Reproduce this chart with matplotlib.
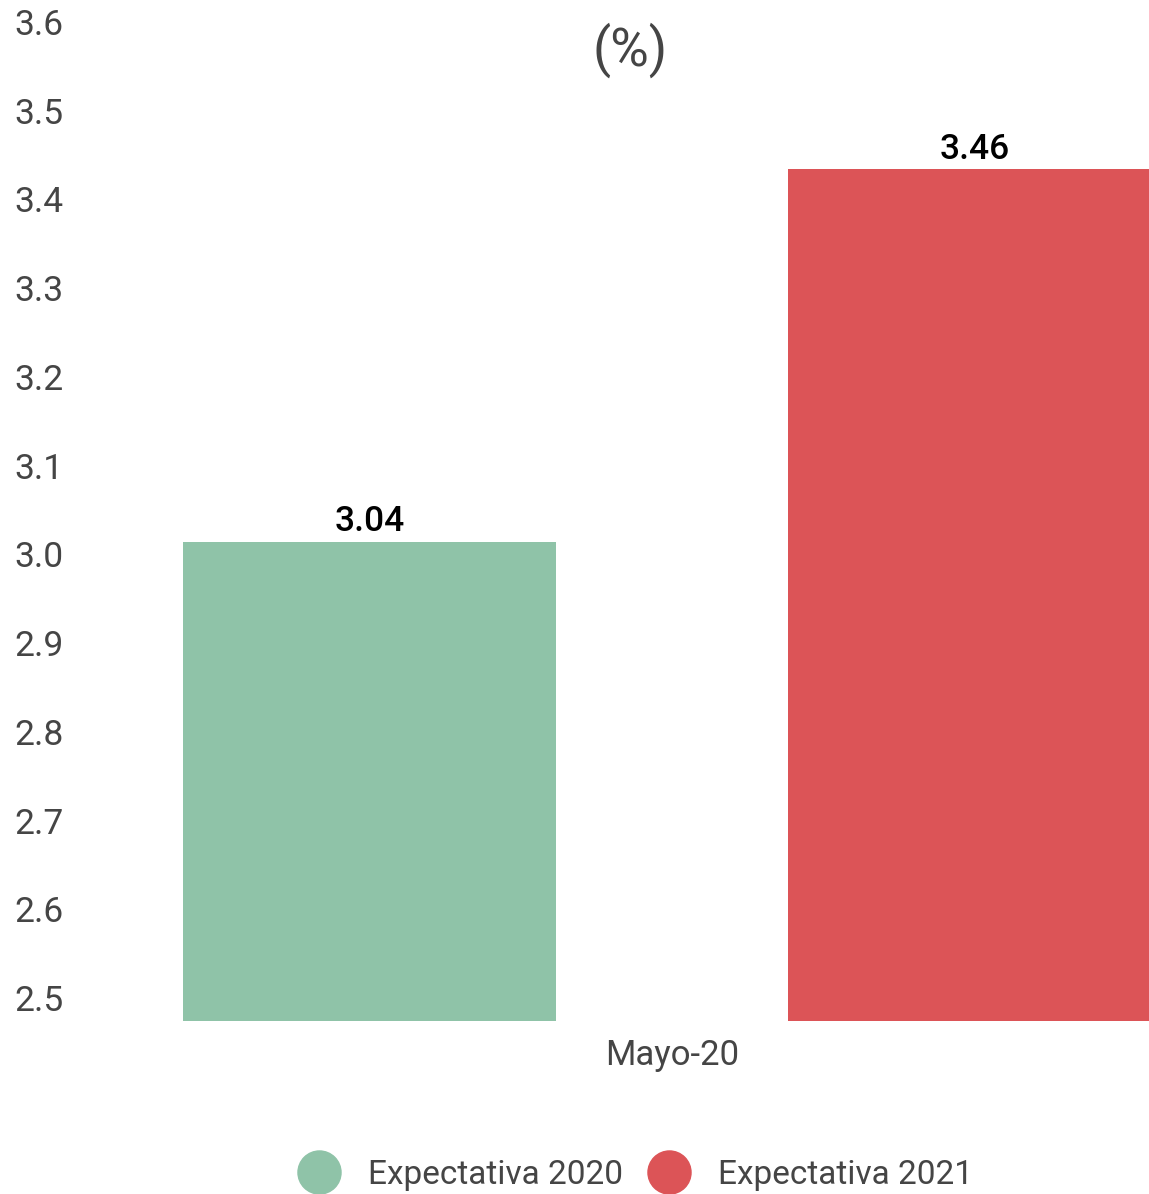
import numpy as np
import matplotlib.pyplot as plt
from matplotlib.transforms import ScaledTranslation
from matplotlib.lines import Line2D

plt.rcParams['font.family'] = ['Roboto', 'DejaVu Sans']

# --- Datos ---
categorias = ["Mayo-20"]
series = ["Expectativa 2020", "Expectativa 2021"]
valores_2020 = [3.04]
valores_2021 = [3.46]
etiquetas_y = [2.5, 2.6, 2.7, 2.8, 2.9, 3.0, 3.1, 3.2, 3.3, 3.4, 3.5, 3.6]

colores = ["#8fc3a8", "#dc5457"]
gris = "#454545"

W, H, DPI = 1149, 1194, 100
fig = plt.figure(figsize=(W / DPI, H / DPI), dpi=DPI)

# area del grafico en pixeles: x 80..1149, y 45..1021 (desde arriba)
ax = fig.add_axes([80 / W, (H - 1021) / H, (W - 80) / W, (1021 - 45) / H])

x = np.arange(len(categorias))
ancho = 0.618
desp = 0.5
ax.bar(x - desp, valores_2020, ancho, bottom=0, color=colores[0], zorder=2)
ax.bar(x + desp, valores_2021, ancho, bottom=0, color=colores[1], zorder=2)

ax.set_ylim(2.5, 3.6)
ax.set_xlim((80 - 672) / 605, (W - 672) / 605)

for xs, vals in [(x - desp, valores_2020), (x + desp, valores_2021)]:
    for xi, v in zip(xs, vals):
        ax.annotate(f"{v:.2f}", (xi, v), xytext=(0, 7.5), textcoords="offset points",
                    ha="center", va="baseline", fontsize=25.5, fontweight="medium",
                    color="black", annotation_clip=False)

ax.set_yticks(etiquetas_y)
ax.set_yticklabels([f"{v:.1f}" for v in etiquetas_y])
ax.tick_params(axis="y", length=0, pad=12, labelsize=25.5, labelcolor=gris)
# etiquetas del eje y desplazadas hacia arriba
desplazamiento = ScaledTranslation(0, 23 / DPI, fig.dpi_scale_trans)
for lab in ax.get_yticklabels():
    lab.set_transform(lab.get_transform() + desplazamiento)

ax.set_xticks(x)
ax.set_xticklabels(categorias)
ax.tick_params(axis="x", length=0, pad=13, labelsize=25, labelcolor=gris)

for s in ax.spines.values():
    s.set_visible(False)

fig.text(630 / W, 1 - 50 / H, "(%)", ha="center", va="center", fontsize=38,
         color=gris)

handles = [Line2D([], [], marker="o", linestyle="none", markersize=31,
                  markerfacecolor=c, markeredgecolor=c) for c in colores]
fig.legend(handles, series, loc="center", bbox_to_anchor=(636 / W, 1 - 1175 / H),
           ncol=2, frameon=False, fontsize=24, labelcolor=gris,
           handletextpad=0.85, columnspacing=0.8, borderpad=0, handlelength=1.2)

fig.savefig("out.png", dpi=DPI)
